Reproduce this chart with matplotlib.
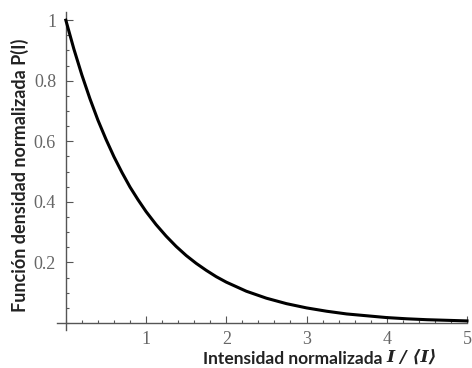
import matplotlib
matplotlib.use("Agg")
import matplotlib.pyplot as plt
from matplotlib.ticker import MultipleLocator, FixedLocator

# --- datos ---
intensidad = [0.0, 0.1, 0.2, 0.3, 0.4, 0.5, 0.6, 0.7, 0.8, 0.9, 1.0,
              1.125, 1.25, 1.375, 1.5, 1.625, 1.75, 1.875, 2.0, 2.25, 2.5,
              2.75, 3.0, 3.25, 3.5, 3.75, 4.0, 4.25, 4.5, 4.75, 5.0]
densidad = [1.0, 0.905, 0.819, 0.741, 0.670, 0.607, 0.549, 0.497, 0.449, 0.407, 0.368,
            0.325, 0.287, 0.253, 0.223, 0.197, 0.174, 0.153, 0.135, 0.105, 0.082,
            0.064, 0.050, 0.039, 0.030, 0.024, 0.018, 0.014, 0.011, 0.009, 0.007]
xticks = [1, 2, 3, 4, 5]
xticklabels = ["1", "2", "3", "4", "5"]
yticks = [0.2, 0.4, 0.6, 0.8, 1.0]
yticklabels = ["0.2", "0.4", "0.6", "0.8", "1"]

fig = plt.figure(figsize=(4.72, 3.68), dpi=100)
# x: -0.11..5 -> px 57..467 ; y: -0.023..1.027
ax = fig.add_axes([57 / 472, (368 - 330) / 368, 410 / 472, 318 / 368])
ax.set_xlim(-0.11, 5.0)
ax.set_ylim(-0.023, 1.027)

ax.plot(intensidad, densidad, color="black", linewidth=2.2, clip_on=False, zorder=3)

axis_col = "#555555"
for s in ["top", "right"]:
    ax.spines[s].set_visible(False)
for s in ["left", "bottom"]:
    ax.spines[s].set_position(("data", 0))
    ax.spines[s].set_color(axis_col)
    ax.spines[s].set_linewidth(1.0)

ax.xaxis.set_major_locator(FixedLocator(xticks))
ax.set_xticklabels(xticklabels)
ax.xaxis.set_minor_locator(MultipleLocator(0.2))
ax.yaxis.set_major_locator(FixedLocator(yticks))
ax.set_yticklabels(yticklabels)
ax.yaxis.set_minor_locator(MultipleLocator(0.05))

ax.tick_params(which="both", direction="in", color=axis_col, width=0.8)
ax.tick_params(which="major", length=5)
ax.tick_params(which="minor", length=2.5)
ax.tick_params(axis="x", which="major", pad=6)
ax.tick_params(axis="y", which="major", pad=7)
for lab in ax.get_xticklabels() + ax.get_yticklabels():
    lab.set_family("Liberation Serif")
    lab.set_fontsize(13)
    lab.set_color("#666666")

# etiquetas de ejes
fig.text(20 / 472, 1 - 175 / 368, "Función densidad normalizada P(I)",
         rotation=90, ha="center", va="center", fontsize=13,
         fontweight="bold", family=["Lato", "DejaVu Sans"], color="#222222")
t1 = fig.text(203 / 472, 4 / 368, "Intensidad normalizada ",
              ha="left", va="baseline", fontsize=12.5, fontweight="bold",
              family=["Lato", "DejaVu Sans"], color="#222222")
ax.annotate("I / \u27e8I\u27e9", xy=(1, 0), xycoords=t1, ha="left", va="bottom",
            fontsize=12.5, fontweight="bold", fontstyle="italic",
            family=["DejaVu Serif"], color="#222222", annotation_clip=False)

fig.savefig("out.png", dpi=100)
